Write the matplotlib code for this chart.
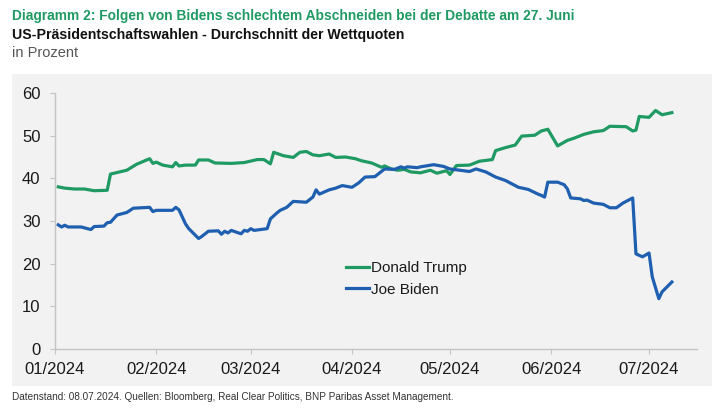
import matplotlib
matplotlib.use("Agg")
import matplotlib.pyplot as plt
import matplotlib.dates as mdates
from matplotlib.patches import Rectangle
import numpy as np

plt.rcParams['font.family'] = ['Liberation Sans', 'DejaVu Sans']
plt.rcParams['axes.unicode_minus'] = False

# Tage seit 01.01.2024 und Werte in Prozent
trump_days = [1, 3, 6, 9, 12, 16, 17, 22, 25, 29, 30, 31, 33, 36, 37, 38, 40, 43, 44, 47,
              49, 54, 58, 62, 64, 66, 67, 70, 73, 75, 77, 79, 81, 84, 86, 89, 92, 94, 97, 100,
              101, 103, 105, 107, 109, 112, 115, 117, 120, 121, 123, 127, 130, 134, 135, 138,
              141, 143, 147, 149, 151, 154, 157, 159, 162, 165, 168, 170, 175, 177, 178, 179,
              182, 184, 186, 189]
trump_vals = [38.0, 37.7, 37.5, 37.5, 37.1, 37.2, 41.0, 41.9, 43.3, 44.6, 43.5, 43.8, 43.1,
              42.7, 43.7, 42.9, 43.1, 43.1, 44.3, 44.3, 43.6, 43.5, 43.7, 44.4, 44.4, 43.4,
              46.1, 45.3, 44.9, 46.1, 46.3, 45.5, 45.3, 45.7, 44.9, 45.0, 44.6, 44.1, 43.6,
              42.6, 42.9, 42.2, 41.9, 42.1, 41.5, 41.3, 41.9, 41.2, 41.8, 40.9, 43.0, 43.1,
              44.0, 44.4, 46.5, 47.2, 47.8, 49.9, 50.1, 51.1, 51.5, 47.6, 48.9, 49.4, 50.3,
              50.9, 51.2, 52.2, 52.1, 51.1, 51.3, 54.5, 54.3, 55.9, 54.9, 55.4]

biden_days = [1, 2, 3, 4, 8, 11, 12, 15, 16, 17, 19, 22, 24, 29, 30, 31, 36, 37, 38, 40, 41,
              44, 45, 47, 50, 51, 52, 53, 54, 57, 58, 59, 60, 61, 65, 66, 68, 69, 71, 73, 77,
              79, 80, 81, 84, 86, 88, 91, 93, 95, 98, 101, 104, 106, 107, 108, 111, 112, 116,
              119, 121, 124, 127, 129, 132, 135, 138, 140, 142, 145, 148, 149, 150, 151, 154,
              156, 157, 158, 161, 162, 163, 165, 168, 170, 172, 174, 177, 178, 180, 182, 183,
              185, 186, 189]
biden_vals = [29.1, 28.6, 29.0, 28.6, 28.6, 28.0, 28.7, 28.8, 29.6, 29.7, 31.4, 32.0, 33.0,
              33.2, 32.2, 32.5, 32.5, 33.2, 32.6, 29.3, 28.2, 25.9, 26.4, 27.6, 27.7, 26.9,
              27.6, 27.2, 27.8, 27.0, 27.8, 27.6, 28.2, 27.8, 28.2, 30.5, 31.9, 32.5, 33.2,
              34.6, 34.4, 35.6, 37.3, 36.3, 37.3, 37.7, 38.3, 37.9, 38.9, 40.3, 40.4, 42.2,
              42.1, 42.7, 42.4, 42.7, 42.5, 42.7, 43.2, 42.8, 42.2, 41.9, 41.6, 42.2, 41.5,
              40.3, 39.5, 38.7, 37.9, 37.4, 36.3, 36.0, 35.6, 39.1, 39.1, 38.5, 37.5, 35.4,
              35.2, 34.8, 34.9, 34.2, 33.9, 33.1, 33.1, 34.2, 35.4, 22.3, 21.6, 22.5, 16.9,
              11.8, 13.4, 15.7]

start = np.datetime64('2024-01-01')
trump_dates = start + np.array(trump_days).astype('timedelta64[D]')
biden_dates = start + np.array(biden_days).astype('timedelta64[D]')

GREEN = '#1f9a63'
BLUE = '#1e5fb0'

W, H = 725, 418
fig = plt.figure(figsize=(W / 100, H / 100), dpi=100)

# grauer Hintergrund
fig.add_artist(Rectangle((12 / W, 1 - 386 / H), 700 / W, 312 / H,
                         transform=fig.transFigure, facecolor='#f2f2f2',
                         edgecolor='none', zorder=0))

ax = fig.add_axes([55 / W, 1 - 349 / H, 642 / W, 256 / H])
ax.set_facecolor('none')

ax.plot(trump_dates, trump_vals, color=GREEN, lw=2.3, label='Donald Trump',
        solid_joinstyle='round')
ax.plot(biden_dates, biden_vals, color=BLUE, lw=2.3, label='Joe Biden',
        solid_joinstyle='round')

ax.set_ylim(0, 60)
ax.set_yticks(range(0, 61, 10))
ax.set_xlim(mdates.date2num(start), mdates.date2num(start) + 196.7)
ax.xaxis.set_major_locator(mdates.MonthLocator())
ax.xaxis.set_major_formatter(mdates.DateFormatter('%m/%Y'))

for s in ['top', 'right']:
    ax.spines[s].set_visible(False)
for s in ['left', 'bottom']:
    ax.spines[s].set_color('#c4c4c4')
    ax.spines[s].set_linewidth(1.0)
ax.tick_params(axis='both', colors='#c4c4c4', labelcolor='#1a1a1a',
               labelsize=12, length=3.5, width=0.8, direction='out')
ax.tick_params(axis='y', pad=7)
ax.tick_params(axis='x', pad=6)

leg = ax.legend(loc='upper left', bbox_to_anchor=(346 / W, 1 - 261 / H),
                bbox_transform=fig.transFigure, frameon=False, fontsize=11,
                handlelength=1.5, handletextpad=0.15, labelspacing=0.5,
                borderpad=0, borderaxespad=0)
for t in leg.get_texts():
    t.set_color('#1a1a1a')

fig.text(12 / W, 1 - 16 / H,
         'Diagramm 2: Folgen von Bidens schlechtem Abschneiden bei der Debatte am 27. Juni',
         fontsize=9.9, fontweight='bold', color=GREEN, va='center')
fig.text(12 / W, 1 - 35 / H, 'US-Präsidentschaftswahlen - Durchschnitt der Wettquoten',
         fontsize=10.2, fontweight='bold', color='#111111', va='center')
fig.text(12 / W, 1 - 53 / H, 'in Prozent', fontsize=10.5, color='#555555', va='center')
fig.text(12 / W, 1 - 397 / H,
         'Datenstand: 08.07.2024. Quellen: Bloomberg, Real Clear Politics, BNP Paribas Asset Management.',
         fontsize=7.2, color='#333333', va='center')

fig.savefig('out.png', dpi=100, facecolor='white')
